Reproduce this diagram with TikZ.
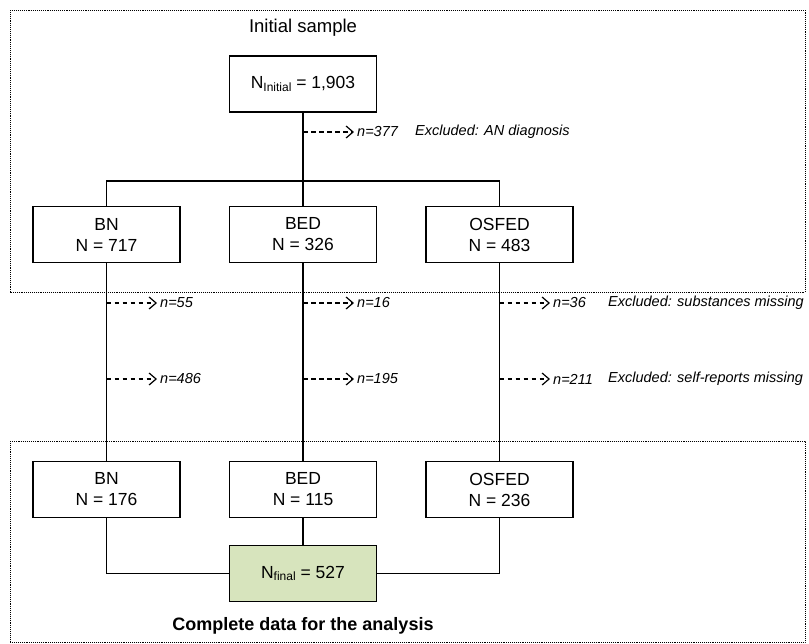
\documentclass[tikz,border=0pt]{standalone}
\usepackage{fontspec}
\setmainfont{Liberation Sans}
\usetikzlibrary{arrows.meta}
\definecolor{finalgreen}{HTML}{D7E4BD}
\newcommand{\subtxt}[1]{\raisebox{-0.3ex}{\fontsize{12}{13}\selectfont #1}}
\begin{document}
\begin{tikzpicture}[x=1pt,y=-1pt]
\tikzset{
  grpbox/.style={draw,densely dotted,line width=0.9pt},
  cntbox/.style={draw,line width=1.3pt,minimum width=147pt,minimum height=56pt,
    inner sep=0pt,align=center,font=\fontsize{17.5}{21}\selectfont},
  flow/.style={line width=1.2pt},
  drop/.style={line width=1.1pt,dash pattern=on 4.5pt off 3.5pt,shorten >=3pt,
    -{Straight Barb[length=7pt,width=12pt,line width=1.2pt]}},
  excl/.style={anchor=west,inner sep=0pt,font=\fontsize{14.5}{17}\selectfont\itshape},
  ttl/.style={inner sep=0pt,font=\fontsize{18.5}{21}\selectfont},
}
\useasboundingbox (0,0) rectangle (809,643);
% frames
\draw[grpbox] (10,10) rectangle (805,292);
\draw[grpbox] (10,441) rectangle (805,642);
\node[ttl] (toptitle) at (303,28) {Initial sample};
\node[ttl,font=\fontsize{18}{21}\selectfont\bfseries] (bottitle) at (303,626) {Complete data for the analysis};
% count boxes
\node[cntbox] (init) at (303,84) {N\subtxt{Initial} = 1,903};
\node[cntbox] (bn1) at (106.5,234.5) {BN\\N = 717};
\node[cntbox] (bed1) at (303,234.5) {BED\\N = 326};
\node[cntbox] (osf1) at (499.5,234.5) {OSFED\\N = 483};
\node[cntbox] (bn2) at (106.5,489.5) {BN\\N = 176};
\node[cntbox] (bed2) at (303,489.5) {BED\\N = 115};
\node[cntbox] (osf2) at (499.5,489.5) {OSFED\\N = 236};
\node[cntbox,fill=finalgreen] (final) at (303,573.5) {N\subtxt{final} = 527};
% flow lines
\coordinate (split) at (303,181);
\draw[flow] (init) -- (split);
\draw[flow] (bn1.north) |- (split) -| (osf1.north);
\draw[flow] (split) -- (bed1);
\draw[flow] (bn1) -- (bn2);
\draw[flow] (bed1) -- (bed2);
\draw[flow] (osf1) -- (osf2);
\draw[flow] (bed2) -- (final);
\draw[flow] (bn2.south) |- (final.west);
\draw[flow] (osf2.south) |- (final.east);
% exclusions
\coordinate (x0) at (303,132);
\coordinate (xa1) at (106.5,303);
\coordinate (xa2) at (106.5,379);
\coordinate (xb1) at (303,303);
\coordinate (xb2) at (303,379);
\coordinate (xc1) at (499.5,303);
\coordinate (xc2) at (499.5,379);
\node[excl] (n377) at (357,132) {n=377};
\node[excl] (n55) at (160,303) {n=55};
\node[excl] (n486) at (160,379) {n=486};
\node[excl] (n16) at (357,303) {n=16};
\node[excl] (n195) at (357,379) {n=195};
\node[excl] (n36) at (553,303) {n=36};
\node[excl] (n211) at (553,379) {n=211};
\draw[drop] (x0) -- (n377.west);
\draw[drop] (xa1) -- (n55.west);
\draw[drop] (xa2) -- (n486.west);
\draw[drop] (xb1) -- (n16.west);
\draw[drop] (xb2) -- (n195.west);
\draw[drop] (xc1) -- (n36.west);
\draw[drop] (xc2) -- (n211.west);
\node[excl] (exan) at (415,132) {Excluded: AN diagnosis};
\node[excl] (exsub) at (608,303) {Excluded: substances missing};
\node[excl] (exself) at (608,379) {Excluded: self-reports missing};
\end{tikzpicture}
\end{document}
